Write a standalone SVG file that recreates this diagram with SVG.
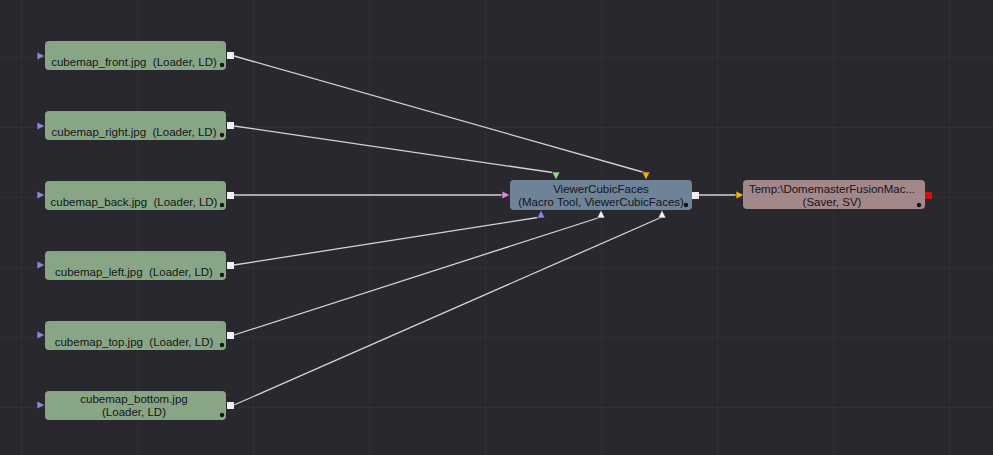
<svg xmlns="http://www.w3.org/2000/svg" width="993" height="455" viewBox="0 0 993 455">
<defs>
<style>
.bg{fill:#28282e}
.grid line{stroke:#2f2f36;stroke-width:1}
.loader{fill:#88a686}
.macro{fill:#6e8298}
.saver{fill:#a3888a}
.lbl{font-family:"Liberation Sans",Arial,sans-serif;font-size:11.5px;fill:#15151a;text-anchor:middle;white-space:pre}
.out{fill:#f0f0f0}
.dot{fill:#111}
.wire{stroke:#d4d4d4;stroke-width:1.3;fill:none}
.tri{stroke:#202024;stroke-width:0.6}
</style>
</defs>
<rect class="bg" x="0" y="0" width="993" height="455"/>
<g class="grid">
<line x1="21.5" y1="0" x2="21.5" y2="455"/>
<line x1="137.5" y1="0" x2="137.5" y2="455"/>
<line x1="253.5" y1="0" x2="253.5" y2="455"/>
<line x1="369.5" y1="0" x2="369.5" y2="455"/>
<line x1="485.5" y1="0" x2="485.5" y2="455"/>
<line x1="601.5" y1="0" x2="601.5" y2="455"/>
<line x1="717.5" y1="0" x2="717.5" y2="455"/>
<line x1="833.5" y1="0" x2="833.5" y2="455"/>
<line x1="949.5" y1="0" x2="949.5" y2="455"/>
<line x1="0" y1="57.5" x2="993" y2="57.5"/>
<line x1="0" y1="127.5" x2="993" y2="127.5"/>
<line x1="0" y1="197.5" x2="993" y2="197.5"/>
<line x1="0" y1="267.5" x2="993" y2="267.5"/>
<line x1="0" y1="337.5" x2="993" y2="337.5"/>
<line x1="0" y1="407.5" x2="993" y2="407.5"/>
</g>
<g id="connectors">
<line class="wire" x1="234" y1="56" x2="646" y2="173"/>
<line class="wire" x1="234" y1="126" x2="556" y2="173"/>
<line class="wire" x1="234" y1="195" x2="503" y2="195"/>
<line class="wire" x1="234" y1="265" x2="541" y2="217"/>
<line class="wire" x1="234" y1="335" x2="601" y2="217"/>
<line class="wire" x1="234" y1="405" x2="662" y2="217"/>
<line class="wire" x1="699" y1="195" x2="737" y2="195"/>
</g>
<g id="front">
<polygon class="tri" points="37,52 45,56 37,60" fill="#8a88dc"/>
<rect class="loader" x="45" y="41" width="181" height="29" rx="4"/>
<rect class="out" x="227" y="52" width="7" height="7"/>
<circle class="dot" cx="222" cy="65" r="2.2"/>
<text class="lbl" x="134" y="66" xml:space="preserve">cubemap_front.jpg  (Loader, LD)</text>
</g>
<g id="right">
<polygon class="tri" points="37,122 45,126 37,130" fill="#8a88dc"/>
<rect class="loader" x="45" y="111" width="181" height="29" rx="4"/>
<rect class="out" x="227" y="122" width="7" height="7"/>
<circle class="dot" cx="222" cy="135" r="2.2"/>
<text class="lbl" x="134" y="136" xml:space="preserve">cubemap_right.jpg  (Loader, LD)</text>
</g>
<g id="back">
<polygon class="tri" points="37,191 45,195 37,199" fill="#8a88dc"/>
<rect class="loader" x="45" y="181" width="181" height="29" rx="4"/>
<rect class="out" x="227" y="192" width="7" height="7"/>
<circle class="dot" cx="222" cy="205" r="2.2"/>
<text class="lbl" x="134" y="206" xml:space="preserve">cubemap_back.jpg  (Loader, LD)</text>
</g>
<g id="left">
<polygon class="tri" points="37,261 45,265 37,269" fill="#8a88dc"/>
<rect class="loader" x="45" y="251" width="181" height="29" rx="4"/>
<rect class="out" x="227" y="262" width="7" height="7"/>
<circle class="dot" cx="222" cy="275" r="2.2"/>
<text class="lbl" x="134" y="276" xml:space="preserve">cubemap_left.jpg  (Loader, LD)</text>
</g>
<g id="top">
<polygon class="tri" points="37,331 45,335 37,339" fill="#8a88dc"/>
<rect class="loader" x="45" y="321" width="181" height="29" rx="4"/>
<rect class="out" x="227" y="332" width="7" height="7"/>
<circle class="dot" cx="222" cy="345" r="2.2"/>
<text class="lbl" x="134" y="346" xml:space="preserve">cubemap_top.jpg  (Loader, LD)</text>
</g>
<g id="bottom">
<polygon class="tri" points="37,401 45,405 37,409" fill="#8a88dc"/>
<rect class="loader" x="45" y="391" width="181" height="29" rx="4"/>
<rect class="out" x="227" y="402" width="7" height="7"/>
<circle class="dot" cx="222" cy="415" r="2.2"/>
<text class="lbl" x="134" y="403">cubemap_bottom.jpg</text>
<text class="lbl" x="134" y="416">(Loader, LD)</text>
</g>
<g id="ViewerCubicFaces">
<rect class="macro" x="510" y="180" width="182" height="30" rx="4"/>
<polygon class="tri" points="502,191 510,195 502,199" fill="#e38ad6"/>
<polygon class="tri" points="552,172 560,172 556,180" fill="#8fd88f"/>
<polygon class="tri" points="642,172 650,172 646,180" fill="#f2b400"/>
<polygon class="tri" points="537,218 545,218 541,210" fill="#8a88dc"/>
<polygon class="tri" points="597,218 605,218 601,210" fill="#f0f0f0"/>
<polygon class="tri" points="658,218 666,218 662,210" fill="#f0f0f0"/>
<rect class="out" x="692" y="192" width="7" height="7"/>
<circle class="dot" cx="686" cy="205" r="2.2"/>
<text class="lbl" x="601" y="193">ViewerCubicFaces</text>
<text class="lbl" x="601" y="206">(Macro Tool, ViewerCubicFaces)</text>
</g>
<g id="Saver">
<polygon class="tri" points="736,191 744,195 736,199" fill="#f2b400"/>
<rect class="saver" x="743" y="180" width="182" height="29" rx="4"/>
<rect x="925" y="192" width="7" height="7" fill="#d01010"/>
<circle class="dot" cx="919" cy="205" r="2.2"/>
<text class="lbl" x="832" y="193">Temp:\DomemasterFusionMac...</text>
<text class="lbl" x="832" y="206">(Saver, SV)</text>
</g>
</svg>
